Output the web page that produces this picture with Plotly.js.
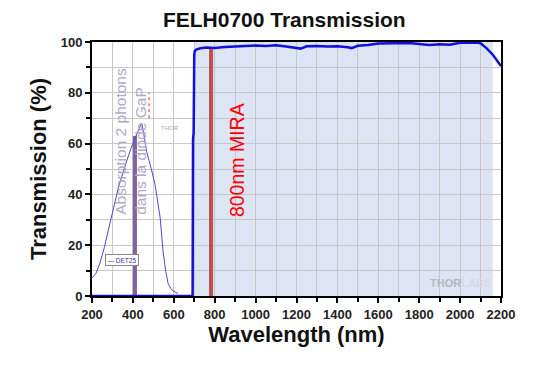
<!DOCTYPE html>
<html>
<head>
<meta charset="utf-8">
<script src="https://cdn.plot.ly/plotly-3.0.1.min.js"></script>
<style>html,body{margin:0;padding:0;background:#fff;}#chart{width:552px;height:367px;}</style>
</head>
<body>
<div id="chart"></div>
<script>
// Main FELH0700 transmission curve
var wavelength = [200, 692, 694, 697, 700, 703, 710, 730, 760, 800, 850, 900, 950, 1000, 1050, 1100, 1150, 1200, 1220, 1250, 1300, 1350, 1400, 1450, 1470, 1500, 1550, 1600, 1650, 1700, 1750, 1800, 1850, 1900, 1950, 2000, 2050, 2080, 2100, 2130, 2160, 2200];
var transmission = [0, 0, 62, 64, 95, 96.5, 97, 97.5, 97.8, 97.6, 98, 98.2, 98.3, 98.6, 98.4, 98.7, 98.2, 97.8, 97.4, 98.3, 98.4, 98.2, 98.3, 97.9, 97.6, 98.5, 98.8, 99.4, 99.5, 99.4, 99.6, 99.2, 98.8, 99.1, 98.9, 99.7, 99.9, 99.8, 99.5, 97.5, 95, 90.5];

// Pasted inset: photodiode (DET25) response curve
var insetWavelength = [200, 220, 239, 260, 280, 303, 330, 361, 390, 420, 443, 455, 467, 490, 508, 533, 547, 560, 572, 585, 596, 620];
var insetResponse = [7, 9, 13, 19, 26, 34, 43, 51, 58, 64, 68, 63, 57, 50, 44, 31, 18, 10, 5, 3, 2, 1];

// Markers
var miraLine = {x: 782, top: 98};       // red bar labelled 800nm MIRA
var gapLine = {x: 410, top: 63};        // purple bar: 2-photon absorption
var band = [700, 2160];                  // shaded transmission band

var labels = {
  title: 'FELH0700 Transmission',
  xTitle: 'Wavelength (nm)',
  yTitle: 'Transmission (%)',
  mira: '800nm MIRA',
  gap: 'Absorption 2 photons<br>dans la diode GaP'
};
var xTicks = [200, 400, 600, 800, 1000, 1200, 1400, 1600, 1800, 2000, 2200];
var yTicks = [0, 20, 40, 60, 80, 100];

var traces = [
  {x: [gapLine.x, gapLine.x], y: [0, gapLine.top], mode: 'lines', line: {color: '#8064A2', width: 4}, hoverinfo: 'skip'},
  {x: insetWavelength, y: insetResponse, mode: 'lines', line: {color: '#4a4ad0', width: 1}, hoverinfo: 'skip'},
  {x: [miraLine.x, miraLine.x], y: [0, miraLine.top], mode: 'lines', line: {color: '#C0504D', width: 4}, hoverinfo: 'skip'},
  {x: wavelength, y: transmission, mode: 'lines', line: {color: '#1010d8', width: 2.5}, hoverinfo: 'skip'}
];

var bold = 'Liberation Sans, Arial, sans-serif';
var layout = {
  width: 552, height: 367,
  margin: {l: 92, r: 51, t: 42, b: 71},
  paper_bgcolor: '#fff', plot_bgcolor: '#fff',
  showlegend: false,
  title: {text: '<b>' + labels.title + '</b>', font: {family: bold, size: 21, color: '#111'}, x: 0.515, xanchor: 'center', y: 0.946, yanchor: 'middle'},
  xaxis: {
    range: [200, 2200], tickvals: xTicks, ticktext: xTicks.map(function(v){return '<b>'+v+'</b>';}),
    ticks: 'outside', ticklen: 5, tickwidth: 2, tickcolor: '#000',
    showline: true, linecolor: '#000', linewidth: 2, mirror: true,
    showgrid: true, gridcolor: '#c8c8c8', gridwidth: 1,
    minor: {dtick: 100, tick0: 200, ticks: 'outside', ticklen: 4, tickwidth: 2, tickcolor: '#000', showgrid: true, gridcolor: '#c8c8c8'},
    tickfont: {family: bold, size: 13, color: '#222'},
    title: {text: '<b>' + labels.xTitle + '</b>', font: {family: bold, size: 22, color: '#111'}, standoff: 6},
    zeroline: false, fixedrange: true
  },
  yaxis: {
    range: [0, 100], tickvals: yTicks, ticktext: yTicks.map(function(v){return '<b>'+v+'</b>';}),
    ticks: 'outside', ticklen: 5, tickwidth: 2, tickcolor: '#000',
    showline: true, linecolor: '#000', linewidth: 2, mirror: true,
    showgrid: true, gridcolor: '#c8c8c8', gridwidth: 1,
    minor: {dtick: 10, tick0: 0, ticks: 'outside', ticklen: 4, tickwidth: 2, tickcolor: '#000', showgrid: true, gridcolor: '#c8c8c8'},
    tickfont: {family: bold, size: 13, color: '#222'},
    title: {text: '<b>' + labels.yTitle + '</b>', font: {family: bold, size: 22, color: '#111'}, standoff: 8},
    zeroline: false, fixedrange: true
  },
  shapes: [
    {type: 'rect', xref: 'x', yref: 'y', x0: band[0], x1: band[1], y0: 0, y1: 100, fillcolor: '#dde5f4', line: {width: 0}, layer: 'below'},
    {type: 'line', xref: 'x', yref: 'y', x0: 479, x1: 479, y0: 70, y1: 80, line: {color: '#e03030', width: 1, dash: 'dot'}}
  ],
  annotations: [
    {x: 909, y: 53.5, xref: 'x', yref: 'y', text: labels.mira, textangle: -90, showarrow: false, font: {family: 'Liberation Sans, Arial, sans-serif', size: 19.5, color: '#ff0000'}},
    {x: 391, y: 31, xref: 'x', yref: 'y', text: labels.gap, textangle: -90, showarrow: false, align: 'left', xanchor: 'center', yanchor: 'bottom', font: {family: 'Liberation Sans, Arial, sans-serif', size: 15.5, color: '#b0a8c4'}},
    {x: 347, y: 14, xref: 'x', yref: 'y', text: '— DET25', showarrow: false, bordercolor: '#888', borderwidth: 1, borderpad: 1.5, bgcolor: '#fff', font: {family: 'Liberation Sans, Arial, sans-serif', size: 6.5, color: '#3030a0'}},
    {x: 581, y: 66, xref: 'x', yref: 'y', text: 'THOR', showarrow: false, font: {family: bold, size: 6, color: '#aaa'}},
    {x: 2000, y: 5, xref: 'x', yref: 'y', text: '<b>THOR<span style="color:#d4d9e3">LABS</span></b>', showarrow: false, font: {family: bold, size: 11, color: '#b4b8c0'}}
  ]
};

Plotly.newPlot('chart', traces, layout, {displayModeBar: false, staticPlot: true});
</script>
</body>
</html>
